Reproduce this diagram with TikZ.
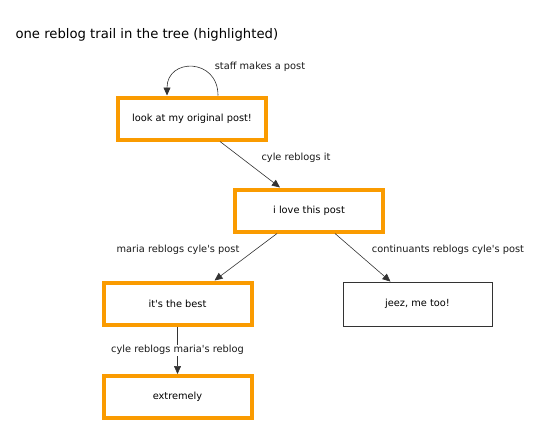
\documentclass[tikz,border=0pt]{standalone}
\usepackage{fontspec}
\setmainfont{DejaVu Sans}[Ligatures=TeXOff]
\usepackage{xcolor}
\usetikzlibrary{arrows.meta, positioning}

\definecolor{trailorange}{RGB}{250,155,0}

\begin{document}
\begin{tikzpicture}[x=1pt, y=1pt,
    trail/.style={draw=trailorange, line width=4pt, minimum width=148pt, minimum height=42pt, font=\fontsize{9.8}{11}\selectfont},
    plainbox/.style={draw=black!80, line width=0.8pt, minimum width=149pt, minimum height=44pt, font=\fontsize{9.8}{11}\selectfont},
    lbl/.style={font=\fontsize{9.8}{11}\selectfont, text=black!90},
    edge/.style={draw=black!80, line width=0.6pt, -{Triangle[length=8pt,width=7pt]}}]
          \useasboundingbox (0,0) rectangle (540,-431);

          \node[anchor=west, font=\fontsize{13.2}{15}\selectfont] (title) at (12,-35) {one reblog trail in the tree (highlighted)};

          \node[trail] (orig) at (192,-118.5) {look at my original post!};
          \node[trail] (love) at (309,-210.5) {i love this post};
          \node[trail] (best) at (177.5,-303.5) {it's the best};
          \node[plainbox] (jeez) at (417.5,-304) {jeez, me too!};
          \node[trail] (extreme) at (177.5,-397) {extremely};

          \draw[edge] ([xshift=26pt]orig.north) to[out=90, in=90, looseness=1.9] ([xshift=-25pt]orig.north);
          \node[lbl] (staff) at (260,-67) {staff makes a post};

          \draw[edge] ([xshift=28pt]orig.south) -- ([xshift=-29pt]love.north);
          \node[lbl] (cyle) at (296,-158) {cyle reblogs it};

          \draw[edge] ([xshift=-32pt]love.south) -- ([xshift=37pt]best.north);
          \node[lbl] (maria) at (178,-250) {maria reblogs cyle's post};

          \draw[edge] ([xshift=26pt]love.south) -- ([xshift=-27pt]jeez.north);
          \node[lbl] (cont) at (448,-250) {continuants reblogs cyle's post};

          \draw[edge] (best) -- (extreme) node[lbl, midway, fill=white, inner sep=1pt] (again) {cyle reblogs maria's reblog};
        \end{tikzpicture}
\end{document}
